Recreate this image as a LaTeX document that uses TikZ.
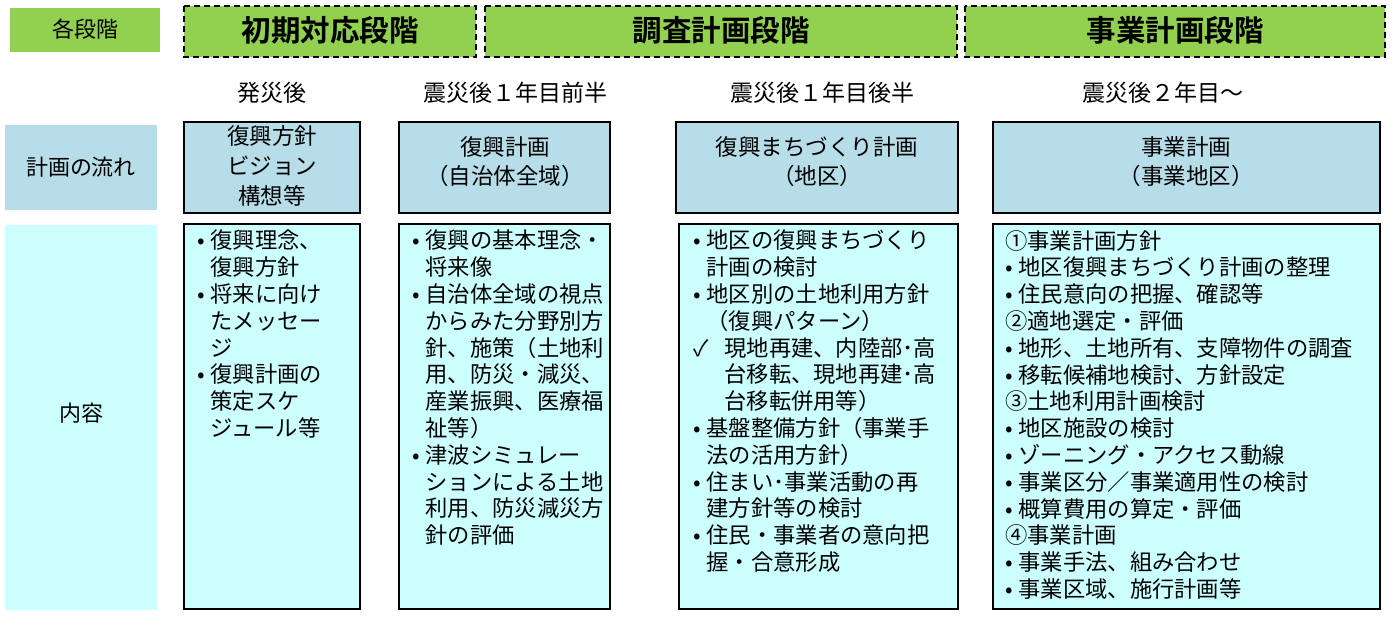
\documentclass[tikz,border=0pt]{standalone}
\usepackage{fontspec}
\setmainfont{Noto Sans CJK JP}
\newfontfamily\jpb{Noto Sans CJK JP Bold}
\begin{document}
\begin{tikzpicture}[x=1pt,y=-1pt,
  hdr/.style={fill=hdrgreen, draw=black, line width=1.5pt, dash pattern=on 6pt off 4pt},
  flow/.style={fill=flowblue, draw=black, line width=2pt},
  cont/.style={fill=contcyan, draw=black, line width=2pt},
  lbl/.style={inner sep=0pt, font=\fontsize{22}{26}\selectfont},
  tm/.style={inner sep=0pt, font=\fontsize{23}{26}\selectfont},
  ft/.style={inner sep=0pt, align=center, font=\fontsize{22.5}{29}\selectfont},
  tx/.style={inner sep=0pt, align=left, anchor=north west, font=\fontsize{22.3}{26.8}\selectfont},
  hd/.style={inner sep=0pt, font=\jpb\fontsize{29.5}{32}\selectfont}]
\definecolor{hdrgreen}{HTML}{92D050}
\definecolor{flowblue}{HTML}{B7DDE8}
\definecolor{contcyan}{HTML}{CCFFFF}
\definecolor{sidecyan}{HTML}{CCFFFF}
\newcommand{\bl}{\makebox[0.6em][l]{•}}
\newcommand{\ind}{\hspace*{0.6em}}
\useasboundingbox (0,0) rectangle (1395,625);
% left column
\fill[hdrgreen] (10,8) rectangle (160,52);
\node[lbl] (l1) at (85,29) {各段階};
\fill[flowblue] (5,125) rectangle (157,210);
\node[lbl] (l2) at (81,167) {計画の流れ};
\fill[sidecyan] (5,225) rectangle (157,610);
\node[lbl] (l3) at (81,413) {内容};
% headers
\draw[hdr] (184,6) rectangle (476,57);
\node[hd] (h1) at (330,30) {初期対応段階};
\draw[hdr] (485,6) rectangle (957,57);
\node[hd] (h2) at (721,30) {調査計画段階};
\draw[hdr] (965,6) rectangle (1385,57);
\node[hd] (h3) at (1175,30) {事業計画段階};
% time
\node[tm] (t1) at (272,93) {発災後};
\node[tm] (t2) at (515,93) {震災後１年目前半};
\node[tm] (t3) at (822,93) {震災後１年目後半};
\node[tm] (t4) at (1163,93) {震災後２年目～};
% flow boxes
\draw[flow] (184,122) rectangle (360,213);
\node[ft,font=\fontsize{22.5}{30}\selectfont] (f1) at (272,166) {復興方針\\ビジョン\\構想等};
\draw[flow] (399,122) rectangle (610,213);
\node[ft] (f2) at (505,162) {復興計画\\（自治体全域）};
\draw[flow] (676,122) rectangle (958,213);
\node[ft] (f3) at (817,162) {復興まちづくり計画\\（地区）};
\draw[flow] (993,122) rectangle (1380,213);
\node[ft] (f4) at (1186,162) {事業計画\\（事業地区）};
% content boxes
\draw[cont] (184,224) rectangle (360,609);
\node[tx] (c1) at (197,230) {\bl 復興理念、\\\ind 復興方針\\\bl 将来に向け\\\ind たメッセー\\\ind ジ\\\bl 復興計画の\\\ind 策定スケ\\\ind ジュール等};
\draw[cont] (399,224) rectangle (610,609);
\node[tx] (c2) at (412,230) {\bl 復興の基本理念・\\\ind 将来像\\\bl 自治体全域の視点\\\ind からみた分野別方\\\ind 針、施策（土地利\\\ind 用、防災・減災、\\\ind 産業振興、医療福\\\ind 祉等）\\\bl 津波シミュレー\\\ind ションによる土地\\\ind 利用、防災減災方\\\ind 針の評価};
\draw[cont] (679,224) rectangle (958,609);
\node[tx] (c3) at (693,230) {\bl 地区の復興まちづくり\\\ind 計画の検討\\\bl 地区別の土地利用方針\\\ind （復興パターン）\\\makebox[1.4em][l]{✓}現地再建、内陸部･高\\\hspace*{1.4em}台移転、現地再建･高\\\hspace*{1.4em}台移転併用等）\\\bl 基盤整備方針（事業手\\\ind 法の活用方針）\\\bl 住まい･事業活動の再\\\ind 建方針等の検討\\\bl 住民・事業者の意向把\\\ind 握・合意形成};
\draw[cont] (993,224) rectangle (1380,609);
\node[tx] (c4) at (1005,230) {①事業計画方針\\\bl 地区復興まちづくり計画の整理\\\bl 住民意向の把握、確認等\\②適地選定・評価\\\bl 地形、土地所有、支障物件の調査\\\bl 移転候補地検討、方針設定\\③土地利用計画検討\\\bl 地区施設の検討\\\bl ゾーニング・アクセス動線\\\bl 事業区分／事業適用性の検討\\\bl 概算費用の算定・評価\\④事業計画\\\bl 事業手法、組み合わせ\\\bl 事業区域、施行計画等};
\end{tikzpicture}
\end{document}
